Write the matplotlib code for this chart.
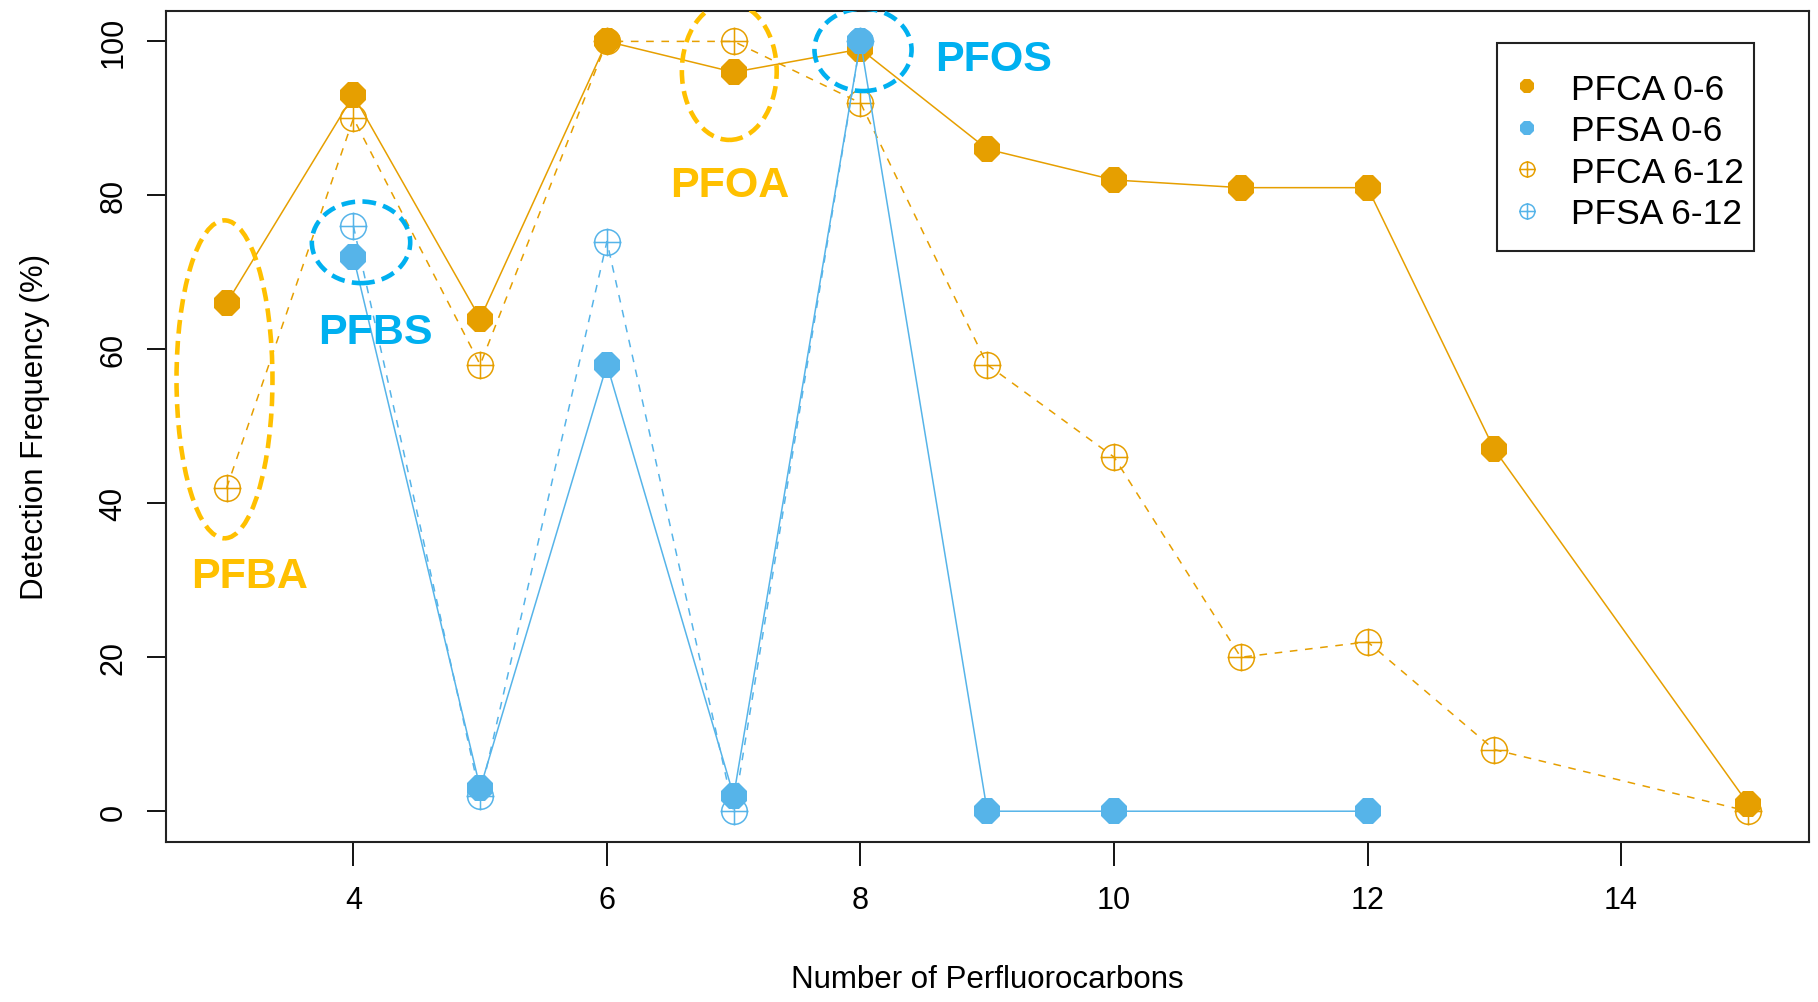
import matplotlib
matplotlib.use("Agg")
import matplotlib.pyplot as plt
from matplotlib import font_manager as fm
from matplotlib.path import Path
from matplotlib.patches import Ellipse, Rectangle
from matplotlib.lines import Line2D
import numpy as np

# ---------------- data ----------------
x_pfca = [3, 4, 5, 6, 7, 8, 9, 10, 11, 12, 13, 15]
pfca_0_6 = [66, 93, 64, 100, 96, 99, 86, 82, 81, 81, 47, 1]
pfca_6_12 = [42, 90, 58, 100, 100, 92, 58, 46, 20, 22, 8, 0]
x_pfsa_0_6 = [4, 5, 6, 7, 8, 9, 10, 12]
pfsa_0_6 = [72, 3, 58, 2, 100, 0, 0, 0]
x_pfsa_6_12 = [4, 5, 6, 7, 8]
pfsa_6_12 = [76, 2, 74, 0, 100]

series_labels = ["PFCA 0-6", "PFSA 0-6", "PFCA 6-12", "PFSA 6-12"]
x_ticks = [4, 6, 8, 10, 12, 14]
y_ticks = [0, 20, 40, 60, 80, 100]
x_label = "Number of Perfluorocarbons"
y_label = "Detection Frequency (%)"

# annotations: (text, x, y) and ellipses (cx, cy, w, h)
ann_gold = [("PFBA", 3.18, 30.6), ("PFOA", 6.97, 81.4)]
ann_blue = [("PFBS", 4.17, 62.3), ("PFOS", 9.05, 97.7)]
ell_gold = [(2.983, 56.1, 0.757, 41.3), (6.965, 96.1, 0.748, 17.8)]
ell_blue = [(4.06, 73.9, 0.776, 10.6), (8.02, 98.9, 0.766, 10.7)]

ORANGE = "#E69F00"
BLUE = "#56B4E9"
GOLD = "#FFC000"
CYAN = "#00B0F0"

# ---------------- fonts ----------------
def has_font(name):
    try:
        fm.findfont(fm.FontProperties(family=name), fallback_to_default=False)
        return True
    except Exception:
        return False

narrow = "Liberation Sans Narrow" if has_font("Liberation Sans Narrow") else "Liberation Sans"
plt.rcParams["font.family"] = ["Liberation Sans", "DejaVu Sans"]

# crossed circle marker
circ = Path.unit_circle()
s = 1.08
cross = Path([(-s, 0), (s, 0), (0, -s), (0, s)],
             [Path.MOVETO, Path.LINETO, Path.MOVETO, Path.LINETO])
crossed = Path.make_compound_path(circ, cross)

fig = plt.figure(figsize=(18.18, 10.03), dpi=100)
ax = fig.add_axes([165.8 / 1818, 1 - 843 / 1003, (1808.7 - 165.8) / 1818, (843 - 11.6) / 1003])

lw = 1.1
ms_big = 20
ax.plot(x_pfca, pfca_6_12, color=ORANGE, lw=lw, ls=(0, (5, 5)), marker=crossed,
        ms=ms_big, mfc="none", mec=ORANGE, mew=1.1, zorder=2)
ax.plot(x_pfsa_6_12, pfsa_6_12, color=BLUE, lw=lw, ls=(0, (5, 5)), marker=crossed,
        ms=ms_big, mfc="none", mec=BLUE, mew=1.1, zorder=2)
ax.plot(x_pfca, pfca_0_6, color=ORANGE, lw=lw, ls="-", marker="8",
        ms=ms_big, mfc=ORANGE, mec=ORANGE, mew=0, zorder=3)
ax.plot(x_pfsa_0_6, pfsa_0_6, color=BLUE, lw=lw, ls="-", marker="8",
        ms=ms_big, mfc=BLUE, mec=BLUE, mew=0, zorder=3)

ax.set_xlim(2.52, 15.48)
ax.set_ylim(-4, 104)
ax.set_xticks(x_ticks)
ax.set_yticks(y_ticks)
for sp in ax.spines.values():
    sp.set_linewidth(1.5)
    sp.set_color("#222222")

tick_fs = 22
ax.tick_params(axis="x", length=17, width=1.3, pad=14, labelsize=tick_fs)
ax.tick_params(axis="y", length=14, width=1.3, pad=13, labelsize=tick_fs, labelrotation=90)
for t in ax.get_xticklabels() + ax.get_yticklabels():
    t.set_fontfamily(narrow)
for t in ax.get_yticklabels():
    t.set_va("center")

fig.text(987 / 1818, 1 - 980 / 1003, x_label, ha="center", va="center",
         fontsize=22.5, family=narrow)
fig.text(35 / 1818, 1 - 427 / 1003, y_label, ha="center", va="center",
         rotation=90, fontsize=22.5, family=narrow)

# annotation ellipses and labels
for (cx, cy, w, h) in ell_gold:
    ax.add_patch(Ellipse((cx, cy), w, h, fill=False, ec=GOLD, lw=3.3,
                         ls=(0, (3, 1.6)), zorder=5))
for (cx, cy, w, h) in ell_blue:
    ax.add_patch(Ellipse((cx, cy), w, h, fill=False, ec=CYAN, lw=3.3,
                         ls=(0, (3, 1.6)), zorder=5))
for (t, x, y) in ann_gold:
    ax.text(x, y, t, color=GOLD, fontsize=31, fontweight="bold",
            ha="center", va="center", zorder=6)
for (t, x, y) in ann_blue:
    ax.text(x, y, t, color=CYAN, fontsize=31, fontweight="bold",
            ha="center", va="center", zorder=6)

# legend
handles = [
    Line2D([], [], ls="none", marker="8", ms=11.5, mfc=ORANGE, mec=ORANGE, mew=0),
    Line2D([], [], ls="none", marker="8", ms=11.5, mfc=BLUE, mec=BLUE, mew=0),
    Line2D([], [], ls="none", marker=crossed, ms=11.5, mfc="none", mec=ORANGE, mew=1.1),
    Line2D([], [], ls="none", marker=crossed, ms=11.5, mfc="none", mec=BLUE, mew=1.1),
]
leg = fig.legend(handles, series_labels, loc="center left",
                 bbox_to_anchor=(1508 / 1818, 1 - 152.5 / 1003),
                 frameon=False, fontsize=25.5, borderpad=0, borderaxespad=0,
                 handlelength=1.06, handletextpad=0.72, labelspacing=0.24)
fig.patches.append(Rectangle((1497 / 1818, 1 - 252 / 1003), 257 / 1818, 208 / 1003,
                             transform=fig.transFigure, fill=False, ec="#222222",
                             lw=1.5))

fig.savefig("out.png", dpi=100)
